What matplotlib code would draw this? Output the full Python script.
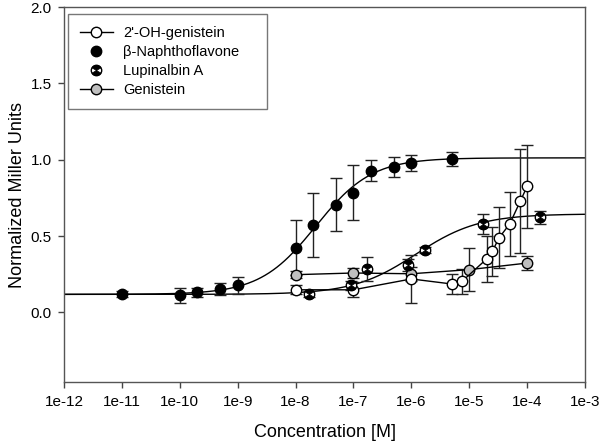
import numpy as np
import matplotlib
matplotlib.use("Agg")
from matplotlib import pyplot as plt
from matplotlib.path import Path

plt.rcParams['font.family'] = ['Liberation Sans', 'DejaVu Sans']

# 2'-OH-genistein (open circles, joined by lines)
oh_conc = [1e-8, 1e-7, 1e-6, 5e-6, 7.5e-6, 2e-5, 2.5e-5, 3.3e-5, 5e-5, 7.6e-5, 1e-4]
oh_val = [0.148, 0.148, 0.219, 0.186, 0.203, 0.35, 0.40, 0.49, 0.579, 0.727, 0.825]
oh_err = [0.03, 0.05, 0.157, 0.065, 0.08, 0.15, 0.16, 0.20, 0.21, 0.34, 0.27]

# beta-Naphthoflavone (filled circles, sigmoid fit)
bnf_conc = [1e-11, 1e-10, 2e-10, 5e-10, 1e-9, 1e-8, 2e-8, 5e-8, 1e-7, 2e-7, 5e-7, 1e-6, 5e-6]
bnf_val = [0.118, 0.111, 0.131, 0.155, 0.177, 0.424, 0.574, 0.705, 0.784, 0.928, 0.954, 0.978, 1.005]
bnf_err = [0.02, 0.047, 0.03, 0.04, 0.055, 0.18, 0.21, 0.175, 0.18, 0.068, 0.065, 0.05, 0.047]
bnf_fit = dict(bottom=0.118, top=1.012, logec50=-7.65, hill=0.9)

# Lupinalbin A (half-filled, sigmoid fit)
lup_conc = [1.7e-8, 9e-8, 1.7e-7, 8.7e-7, 1.7e-6, 1.7e-5, 1.7e-4]
lup_val = [0.122, 0.177, 0.286, 0.312, 0.41, 0.579, 0.622]
lup_err = [0.02, 0.03, 0.08, 0.04, 0.02, 0.063, 0.04]
lup_fit = dict(bottom=0.118, top=0.645, logec50=-5.92, hill=0.8)

# Genistein (grey circles, joined by lines)
gen_conc = [1e-8, 1e-7, 1e-6, 1e-5, 1e-4]
gen_val = [0.247, 0.258, 0.253, 0.28, 0.323]
gen_err = [0.025, 0.03, 0.045, 0.14, 0.045]

xticks = [1e-12, 1e-11, 1e-10, 1e-9, 1e-8, 1e-7, 1e-6, 1e-5, 1e-4, 1e-3]
xticklabels = ['1e-12', '1e-11', '1e-10', '1e-9', '1e-8', '1e-7', '1e-6', '1e-5', '1e-4', '1e-3']
yticks = [0.0, 0.5, 1.0, 1.5, 2.0]


def logistic(x, bottom, top, logec50, hill):
    return bottom + (top - bottom) / (1 + 10 ** ((logec50 - np.log10(x)) * hill))


# hourglass marker: black top and bottom wedges over a white circle
hourglass = Path.make_compound_path(Path.wedge(30, 150), Path.wedge(210, 330))

fig = plt.figure(figsize=(6, 4.44), dpi=100)
ax = fig.add_axes([0.1067, 0.1396, 0.8683, 0.8446])

ms = 7.5
ecol = '#222222'
err_kw = dict(fmt='none', ecolor=ecol, elinewidth=1, capsize=4.3, capthick=1, zorder=2)

xx = np.logspace(-12, -3, 400)
ax.plot(xx, logistic(xx, **bnf_fit), color='black', lw=1, zorder=1)
ax.plot(xx, logistic(xx, **lup_fit), color='black', lw=1, zorder=1)

ax.errorbar(gen_conc, gen_val, yerr=gen_err, **err_kw)
ax.errorbar(oh_conc, oh_val, yerr=oh_err, **err_kw)
ax.errorbar(bnf_conc, bnf_val, yerr=bnf_err, **err_kw)
ax.errorbar(lup_conc, lup_val, yerr=lup_err, **err_kw)

h_gen, = ax.plot(gen_conc, gen_val, '-o', color='black', lw=1, ms=ms, mfc='#bfbfbf',
                 mec='black', mew=1, zorder=3)
h_oh, = ax.plot(oh_conc, oh_val, '-o', color='black', lw=1, ms=ms, mfc='white',
                mec='black', mew=1, zorder=4)
h_bnf, = ax.plot(bnf_conc, bnf_val, 'o', ms=ms, mfc='black', mec='black', mew=1, zorder=4)
h_lup1, = ax.plot(lup_conc, lup_val, 'o', ms=ms, mfc='white', mec='black', mew=1, zorder=4)
h_lup2, = ax.plot(lup_conc, lup_val, ls='none', marker=hourglass, ms=ms, mfc='black',
                  mec='black', mew=0.5, zorder=5)

ax.set_xscale('log')
ax.set_xlim(1e-12, 1e-3)
ax.set_ylim(-0.456, 2.0)
ax.set_xticks(xticks)
ax.set_xticklabels(xticklabels)
ax.minorticks_off()
ax.set_yticks(yticks)
ax.set_yticklabels(['%.1f' % v for v in yticks])
ax.tick_params(direction='out', length=4, width=1, color='#444444', labelsize=11, pad=5)
ax.tick_params(axis='x', top=False)
ax.tick_params(axis='y', right=False)
for s in ax.spines.values():
    s.set_color('#555555')
    s.set_linewidth(1)

ax.set_xlabel('Concentration [M]', fontsize=13, labelpad=11)
ax.set_ylabel('Normalized Miller Units', fontsize=13, labelpad=3)

leg = ax.legend([h_oh, h_bnf, (h_lup1, h_lup2), h_gen],
                ["2'-OH-genistein", 'β-Naphthoflavone', 'Lupinalbin A', 'Genistein'],
                loc='upper left', bbox_to_anchor=(0.0077, 0.0, 0.381, 0.981), mode='expand',
                borderaxespad=0, fontsize=10.5, frameon=True, fancybox=False,
                handlelength=2.3, handletextpad=0.7, labelspacing=0.35, borderpad=0.8)
leg.get_frame().set_edgecolor('#555555')
leg.get_frame().set_linewidth(1)

fig.savefig('out.png', dpi=100)
